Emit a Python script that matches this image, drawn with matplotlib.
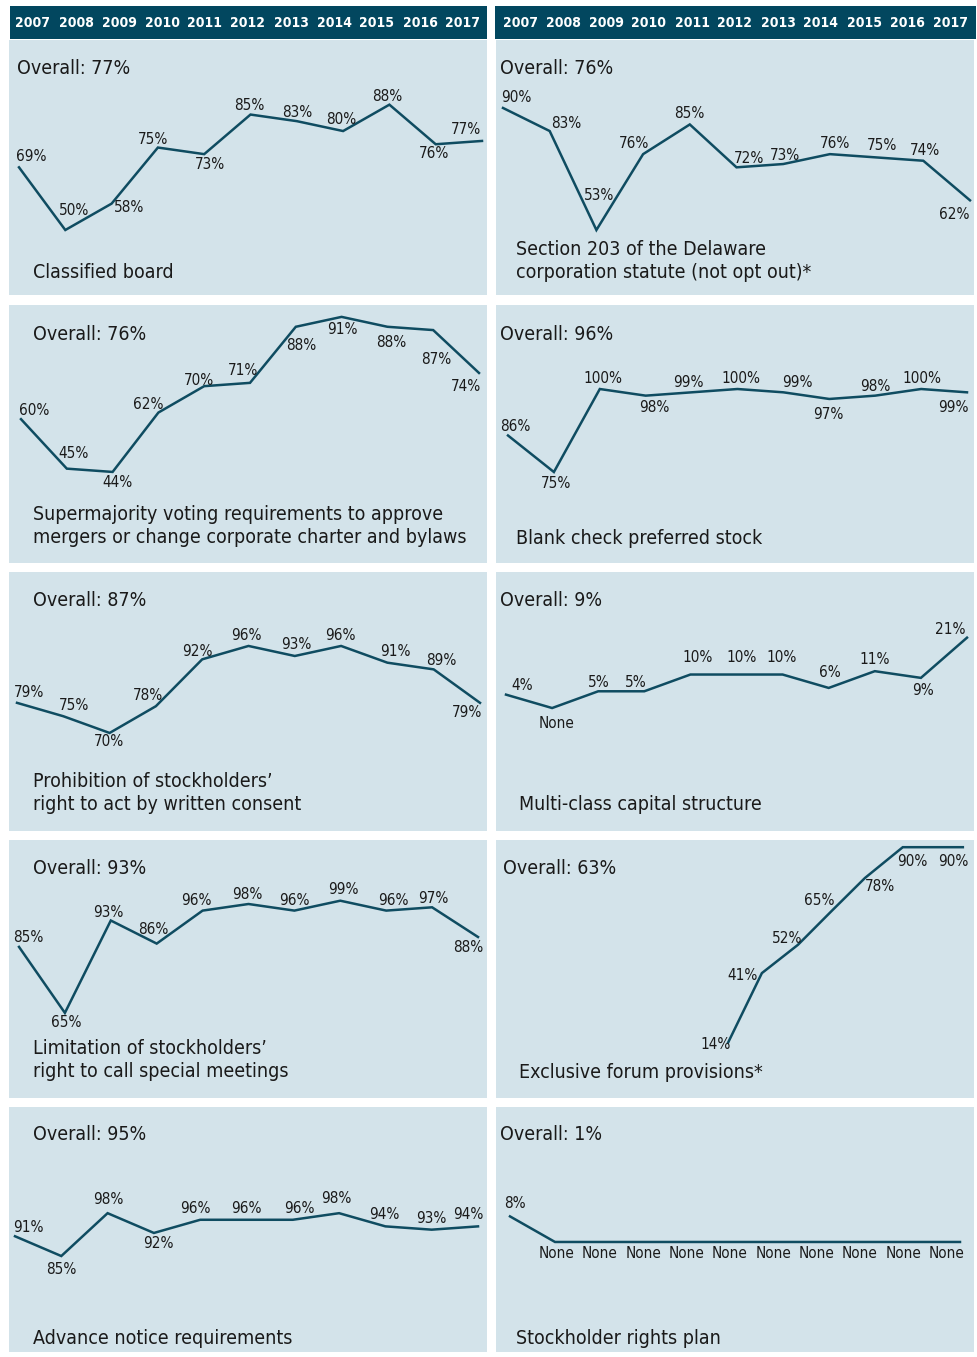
import matplotlib
matplotlib.use("Agg")
import matplotlib.pyplot as plt
from matplotlib import font_manager as fm

# pick the narrowest sans available
_fonts = fm.fontManager.ttflist
_names = {f.name for f in _fonts}
if 'Liberation Sans Narrow' in _names:
    FAMILY, STRETCH = 'Liberation Sans Narrow', 'normal'
    LABEL_FS, TITLE_FS, HEAD_FS = 11.5, 15.5, 11
elif any(f.name == 'DejaVu Sans' and 'condensed' in str(f.stretch) for f in _fonts):
    FAMILY, STRETCH = 'DejaVu Sans', 'condensed'
    LABEL_FS, TITLE_FS, HEAD_FS = 11, 14, 10
else:
    FAMILY, STRETCH = 'Roboto', 'normal'
    LABEL_FS, TITLE_FS, HEAD_FS = 10.5, 14, 9.5

plt.rcParams['font.family'] = [FAMILY, 'DejaVu Sans']
plt.rcParams['font.stretch'] = STRETCH

years = list(range(2007, 2018))

classified = [69, 50, 58, 75, 73, 85, 83, 80, 88, 76, 77]
delaware_203 = [90, 83, 53, 76, 85, 72, 73, 76, 75, 74, 62]
supermajority = [60, 45, 44, 62, 70, 71, 88, 91, 88, 87, 74]
blank_check = [86, 75, 100, 98, 99, 100, 99, 97, 98, 100, 99]
written_consent = [79, 75, 70, 78, 92, 96, 93, 96, 91, 89, 79]
multi_class = [4, 0, 5, 5, 10, 10, 10, 6, 11, 9, 21]
special_meetings = [85, 65, 93, 86, 96, 98, 96, 99, 96, 97, 88]
forum_years = [2011.83, 2012.56, 2013.34, 2014.06, 2014.79, 2015.61, 2016.91]
exclusive_forum = [14, 41, 52, 65, 78, 90, 90]
advance_notice = [91, 85, 98, 92, 96, 96, 96, 98, 94, 93, 94]
rights_plan = [8, 0, 0, 0, 0, 0, 0, 0, 0, 0, 0]

overall = [77, 76, 76, 96, 87, 9, 93, 63, 95, 1]
captions = [
    "Classified board",
    "Section 203 of the Delaware\ncorporation statute (not opt out)*",
    "Supermajority voting requirements to approve\nmergers or change corporate charter and bylaws",
    "Blank check preferred stock",
    "Prohibition of stockholders\u2019\nright to act by written consent",
    "Multi-class capital structure",
    "Limitation of stockholders\u2019\nright to call special meetings",
    "Exclusive forum provisions*",
    "Advance notice requirements",
    "Stockholder rights plan",
]

HEADER = '#02475f'
BG = '#d3e3ea'
LINE = '#0f4c61'
TXT = '#1a1a1a'

W, H = 977, 1357
fig = plt.figure(figsize=(W / 100, H / 100), dpi=100)
fig.patch.set_facecolor('white')


def px_axes(x0, y0, x1, y1):
    return fig.add_axes([x0 / W, 1 - y1 / H, (x1 - x0) / W, (y1 - y0) / H])


def fig_text(x, y, s, **kw):
    fig.text(x / W, 1 - y / H, s, **kw)


# header bars with the years
for x0, x1, first in [(10, 487, 33), (495, 976, 520)]:
    hx = px_axes(x0, 6, x1, 39)
    hx.set_facecolor(HEADER)
    hx.set_xticks([])
    hx.set_yticks([])
    for sp in hx.spines.values():
        sp.set_visible(False)
    for i, yr in enumerate(years):
        fig_text(first + 43 * i, 23, str(yr), color='white', fontsize=HEAD_FS,
                 fontweight='bold', ha='center', va='center')

# panel frames: (left, top, right, bottom) px, x of first and last year px, ylim
cols = [(9, 487), (496, 974)]
rows = [(40, 295), (305, 563), (572, 831), (840, 1098), (1107, 1352)]
point_x = [(19, 482), (503, 970), (21, 479), (508, 967), (17, 480),
           (506, 967), (19, 478), (505, 967), (15, 478), (510, 960)]
ylims = [(30.3, 107.6), (33.3, 110.6), (16.4, 94.6), (47.6, 125.3),
         (40.7, 118.1), (-36.7, 40.6), (39.2, 117.4), (-7.6, 92.8),
         (55.9, 130.2), (-34.4, 42.2)]
title_pos = [(17, 68), (500, 68), (33, 334), (500, 334), (33, 601),
             (500, 601), (33, 868), (503, 868), (33, 1135), (500, 1135)]
caption_pos = [(33, 272), (516, 261), (33, 526), (516, 538), (33, 793),
               (519, 805), (33, 1060), (519, 1072), (33, 1339), (516, 1339)]

# label offsets in pixels (dx, dy up)
offsets = [
    [(12, 11), (9, 20), (18, -4), (-5, 8), (6, -10), (-1, 9), (0, 9), (-2, 12), (-2, 8), (-2, -9), (-16, 11)],
    [(13, 10), (17, 8), (3, 35), (-9, 11), (0, 11), (13, 9), (2, 9), (5, 11), (5, 12), (2, 10), (-16, -14)],
    [(13, 9), (7, 15), (5, -11), (-10, 8), (-5, 6), (-7, 12), (5, -19), (1, -13), (4, -16), (3, -29), (-13, -14)],
    [(7, 9), (2, -11), (3, 11), (9, -12), (-3, 10), (3, 11), (14, 10), (-1, -16), (0, 9), (1, 11), (-14, -15)],
    [(12, 10), (11, 11), (-1, -9), (-8, 11), (-5, 8), (-2, 10), (2, 11), (-1, 10), (8, 11), (8, 9), (-13, -10)],
    [(16, 9), (4, -15), (1, 9), (-8, 9), (7, 17), (5, 17), (-1, 17), (1, 15), (0, 12), (2, -13), (-17, 8)],
    [(9, 9), (1, -10), (-2, 8), (-3, 14), (-6, 10), (-1, 10), (0, 10), (3, 11), (7, 10), (1, 9), (-10, -11)],
    [(-13, -2), (-19, -2), (-11, 6), (-12, 11), (15, -8), (10, -14), (-10, -14)],
    [(13, 9), (0, -13), (1, 14), (4, -11), (-5, 11), (0, 11), (7, 11), (-3, 15), (-1, 12), (0, 11), (-10, 12)],
    [(5, 13), (2, -12), (0, -12), (-1, -12), (-3, -12), (-5, -12), (-6, -12), (-8, -12), (-10, -12), (-11, -12), (-13, -12)],
]

series = [
    (years, classified), (years, delaware_203), (years, supermajority),
    (years, blank_check), (years, written_consent), (years, multi_class),
    (years, special_meetings), (forum_years, exclusive_forum),
    (years, advance_notice), (years, rights_plan),
]

for k, (xs, vals) in enumerate(series):
    L, R = cols[k % 2]
    T, B = rows[k // 2]
    ax = px_axes(L, T, R, B)
    ax.set_facecolor(BG)
    ax.set_xticks([])
    ax.set_yticks([])
    for sp in ax.spines.values():
        sp.set_visible(False)

    p0, p1 = point_x[k]
    s = (p1 - p0) / 10
    ax.set_xlim(2007 - (p0 - L) / s, 2017 + (R - p1) / s)
    ax.set_ylim(*ylims[k])

    ax.plot(xs, vals, color=LINE, lw=1.8, solid_joinstyle='miter')
    for x, v, (dx, dy) in zip(xs, vals, offsets[k]):
        txt = 'None' if v == 0 else f'{v}%'
        ax.annotate(txt, (x, v), xytext=(dx, dy), textcoords='offset pixels',
                    ha='center', va='center', fontsize=LABEL_FS, color=TXT)

    tx, ty = title_pos[k]
    fig_text(tx, ty, f'Overall: {overall[k]}%', fontsize=TITLE_FS, color=TXT,
             ha='left', va='center')
    cx, cy = caption_pos[k]
    fig_text(cx, cy, captions[k], fontsize=TITLE_FS, color=TXT, ha='left',
             va='center', linespacing=1.25)

fig.savefig('out.png', dpi=100, facecolor='white')
